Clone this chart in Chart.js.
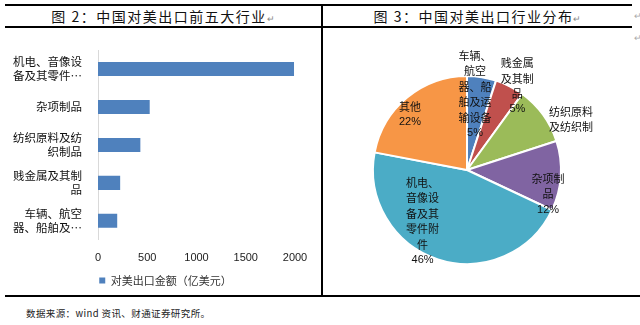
<!DOCTYPE html>
<html><head><meta charset="utf-8">
<script src="https://cdn.jsdelivr.net/npm/chart.js@4/dist/chart.umd.min.js"></script>
<style>
body{margin:0;width:640px;height:325px;background:#fff;position:relative;overflow:hidden;font-family:"Noto Sans CJK SC",sans-serif;}
.ln{position:absolute;background:#000;}
.title{position:absolute;top:5px;height:22px;line-height:22px;font-size:14px;letter-spacing:1.5px;color:#111;text-align:center;}
.pm{font-size:9px;color:#888;letter-spacing:0;}
#src{position:absolute;left:26px;top:306px;font-size:9.5px;letter-spacing:0.4px;color:#222;font-family:"Noto Sans CJK SC",serif;}
#c1{position:absolute;left:0;top:28px;}
#c2{position:absolute;left:323px;top:28px;}
</style></head>
<body>
<div class="ln" style="left:5px;top:4px;width:627px;height:2px"></div>
<div class="ln" style="left:5px;top:26px;width:627px;height:2px"></div>
<div class="ln" style="left:5px;top:295px;width:635px;height:2px"></div>
<div class="ln" style="left:321px;top:5px;width:2px;height:291px"></div>
<div class="title" style="left:5px;width:316px">图 2：中国对美出口前五大行业<span class="pm">↵</span></div>
<div class="title" style="left:323px;width:309px">图 3：中国对美出口行业分布<span class="pm">↵</span></div>
<div style="position:absolute;left:634px;top:9px;font-size:9px;color:#aaa">↵</div>
<div style="position:absolute;left:634px;top:31px;font-size:9px;color:#aaa">↵</div>
<div id="src">数据来源：wind 资讯、财通证券研究所。</div>
<canvas id="c1" width="320" height="268"></canvas>
<canvas id="c2" width="312" height="268"></canvas>
<script>
// ---- data ----
const barCategories = [["机电、音像设","备及其零件…"],["杂项制品"],["纺织原料及纺","织制品"],["贱金属及其制","品"],["车辆、航空","器、船舶及…"]];
const barValues = [1990, 525, 430, 225, 195];
const barSeriesName = "对美出口金额（亿美元）";
const xTickMax = 2000;
const xTickStep = 500;

const pieCategories = ["车辆、航空器、船舶及运输设备","贱金属及其制品","纺织原料及纺织制品","杂项制品","机电、音像设备及其零件附件","其他"];
const pieValues = [5, 5, 10, 12, 46, 22];
const pieLabelLines = [
  ["车辆、","航空","器、船","舶及运","输设备","5%"],
  ["贱金属","及其制","品","5%"],
  ["纺织原料","及纺织制"],
  ["杂项制","品","12%"],
  ["机电、","音像设","备及其","零件附","件","46%"],
  ["其他","22%"]
];
const pieColors = ["#4F81BD","#C0504D","#9BBB59","#8064A2","#4BACC6","#F79646"];

// ---- bar chart ----
Chart.defaults.font.family = "'Noto Sans CJK SC', sans-serif";
const shiftLegend = {
  id:'shiftLegend',
  afterLayout(chart){ chart.legend.left += 18; chart.legend.right += 18; }
};
new Chart(document.getElementById('c1'), {
  type:'bar',
  data:{labels:barCategories, datasets:[{label:barSeriesName, data:barValues, backgroundColor:'#4F81BD', barPercentage:0.74, categoryPercentage:0.5}]},
  options:{
    indexAxis:'y', responsive:false, animation:false,
    layout:{padding:{top:22,right:25,left:0,bottom:0}},
    plugins:{
      tooltip:{enabled:false},
      legend:{position:'bottom', labels:{boxWidth:6, boxHeight:6, padding:6, color:'#333', font:{size:11}}}
    },
    scales:{
      x:{min:0,max:xTickMax, ticks:{stepSize:xTickStep, color:'#222', padding:4, font:{family:"'Liberation Sans', Arial", size:11},
           callback:(v)=>String(v)}, grid:{display:false}, border:{display:false}},
      y:{ticks:{color:'#111', padding:8, font:{size:11.5}}, grid:{display:false}, border:{display:true,color:'#D9D9D9',width:1},
         afterFit(s){ s.width = 98; }}
    }
  },
  plugins:[shiftLegend]
});

// ---- pie chart ----
const labelPlace = [
  {f:0.81, da:-3},
  {f:1.04, da:4},
  {f:1.23, da:10},
  {f:0.90, da:13},
  {f:0.72, da:23},
  {f:0.85, da:-6}
];
const pieLabels = {
  id:'pieLabels',
  afterDatasetsDraw(chart){
    const ctx = chart.ctx;
    const meta = chart.getDatasetMeta(0);
    ctx.save();
    ctx.fillStyle = '#111';
    ctx.textAlign = 'center';
    ctx.textBaseline = 'middle';
    const lh = 15.5;
    meta.data.forEach((arc,i)=>{
      const p = labelPlace[i];
      const mid = (arc.startAngle + arc.endAngle)/2 + p.da*Math.PI/180;
      const r = arc.outerRadius * p.f;
      const cx = arc.x + Math.cos(mid)*r;
      const cy = arc.y + Math.sin(mid)*r;
      const lines = pieLabelLines[i];
      const y0 = cy - (lines.length-1)*lh/2;
      lines.forEach((t,j)=>{
        const isPct = /%$/.test(t);
        ctx.font = isPct ? "11px 'Liberation Sans', Arial" : "11px 'Noto Sans CJK SC'";
        ctx.fillText(t, cx, y0 + j*lh);
      });
    });
    ctx.restore();
  }
};
new Chart(document.getElementById('c2'), {
  type:'pie',
  data:{labels:pieCategories, datasets:[{data:pieValues, backgroundColor:pieColors, borderColor:'#fff', borderWidth:2}]},
  options:{
    responsive:false, animation:false,
    layout:{padding:{left:49,right:73,top:47,bottom:31}},
    plugins:{legend:{display:false}, tooltip:{enabled:false}}
  },
  plugins:[pieLabels]
});
</script>
</body></html>
